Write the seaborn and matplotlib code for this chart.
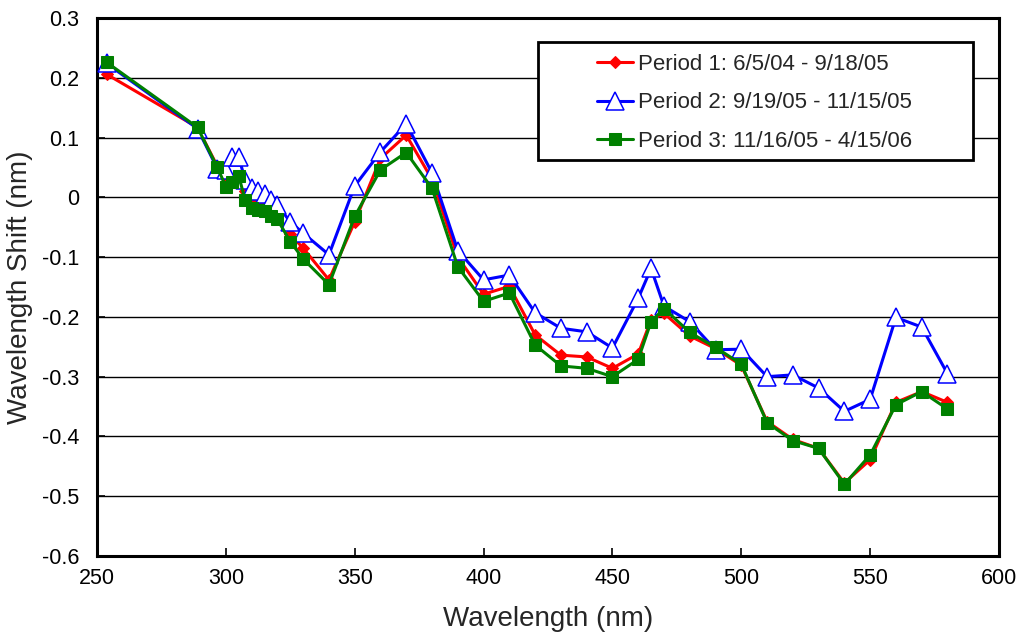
import matplotlib
matplotlib.use("Agg")
import matplotlib.pyplot as plt
import matplotlib.patches as mpatches
import seaborn as sns
import pandas as pd

wavelength = [253.7, 289, 296.7, 300, 302.5, 305, 307.5, 310, 312.5, 315, 317.5, 320,
              325, 330, 340, 350, 360, 370, 380, 390, 400, 410, 420, 430, 440, 450,
              460, 465, 470, 480, 490, 500, 510, 520, 530, 540, 550, 560, 570, 580]

period1 = [0.206, 0.117, 0.052, 0.025, 0.030, 0.035, 0.010, -0.005, -0.010, -0.015, -0.022, -0.030,
           -0.062, -0.085, -0.138, -0.041, 0.065, 0.104, 0.030, -0.100, -0.162, -0.149, -0.230, -0.264,
           -0.267, -0.286, -0.262, -0.205, -0.194, -0.232, -0.253, -0.281, -0.375, -0.405, -0.420, -0.478,
           -0.439, -0.343, -0.325, -0.343]

period2 = [0.224, 0.115, 0.048, 0.045, 0.068, 0.067, 0.029, 0.015, 0.010, 0.006, -0.004, -0.013,
           -0.041, -0.060, -0.096, 0.019, 0.076, 0.123, 0.041, -0.089, -0.138, -0.130, -0.193, -0.219,
           -0.225, -0.252, -0.169, -0.119, -0.182, -0.208, -0.255, -0.254, -0.300, -0.297, -0.319, -0.358,
           -0.338, -0.201, -0.217, -0.295]

period3 = [0.226, 0.117, 0.050, 0.018, 0.026, 0.036, -0.005, -0.018, -0.021, -0.023, -0.032, -0.037,
           -0.074, -0.103, -0.146, -0.032, 0.046, 0.075, 0.015, -0.116, -0.174, -0.160, -0.247, -0.282,
           -0.286, -0.300, -0.271, -0.208, -0.186, -0.226, -0.251, -0.279, -0.377, -0.407, -0.420, -0.480,
           -0.431, -0.347, -0.325, -0.354]

labels = ["Period 1: 6/5/04 - 9/18/05",
          "Period 2: 9/19/05 - 11/15/05",
          "Period 3: 11/16/05 - 4/15/06"]

x_ticks = [250, 300, 350, 400, 450, 500, 550, 600]
y_ticks = [0.3, 0.2, 0.1, 0, -0.1, -0.2, -0.3, -0.4, -0.5, -0.6]

df = pd.DataFrame({
    "Wavelength": wavelength * 3,
    "Shift": period1 + period2 + period3,
    "Period": [labels[0]] * len(wavelength) + [labels[1]] * len(wavelength) + [labels[2]] * len(wavelength),
})

sns.set_theme(style="ticks")
plt.rcParams["font.family"] = ["Liberation Sans", "DejaVu Sans"]
plt.rcParams["axes.unicode_minus"] = False

fig = plt.figure(figsize=(10.23, 6.37), dpi=100)
ax = fig.add_axes([97 / 1023, 1 - 556 / 637, (999 - 97) / 1023, (556 - 18) / 637])

styles = [
    dict(color="#FF0000", marker="D", markersize=6, markerfacecolor="#FF0000", markeredgecolor="#FF0000"),
    dict(color="#0000FF", marker="^", markersize=13, markerfacecolor="white", markeredgecolor="#0000FF",
         markeredgewidth=1.1),
    dict(color="#008000", marker="s", markersize=8, markerfacecolor="#008000", markeredgecolor="#008000"),
]

for lab, st in zip(labels, styles):
    sub = df[df["Period"] == lab]
    sns.lineplot(data=sub, x="Wavelength", y="Shift", ax=ax, estimator=None, sort=False,
                 linewidth=2.2, label=lab, zorder=3, **st)

ax.set_xlim(250, 600)
ax.set_ylim(-0.6, 0.3)
ax.set_xticks(x_ticks)
ax.set_yticks(y_ticks)
ax.set_xticklabels([str(v) for v in x_ticks])
ax.set_yticklabels([f"{v:g}" for v in y_ticks])
ax.tick_params(axis="both", direction="in", length=6, width=1.2, colors="black", labelsize=15.5)
ax.tick_params(axis="x", pad=9)
ax.tick_params(axis="y", pad=13)

ax.yaxis.grid(True, color="black", linewidth=1.0, zorder=0)
ax.xaxis.grid(False)
ax.set_axisbelow(True)
for side in ["left", "right", "top", "bottom"]:
    ax.spines[side].set_visible(True)
    ax.spines[side].set_color("black")
    ax.spines[side].set_linewidth(2.2)

ax.set_xlabel("Wavelength (nm)", fontsize=20, labelpad=12)
ax.set_ylabel("Wavelength Shift (nm)", fontsize=20, labelpad=6)

# legend box
box = mpatches.Rectangle((0.489, 0.736), 0.482, 0.219, transform=ax.transAxes,
                         facecolor="white", edgecolor="black", linewidth=2.0, zorder=4.5)
ax.add_patch(box)
leg = ax.legend(loc="center left", bbox_to_anchor=((597 - 97) / 902, 1 - (103 - 18) / 538),
                frameon=False, fontsize=16, handlelength=1.6, handletextpad=0.25,
                labelspacing=0.78, borderpad=0, borderaxespad=0)
leg.set_zorder(5)

fig.savefig("out.png", dpi=100)
